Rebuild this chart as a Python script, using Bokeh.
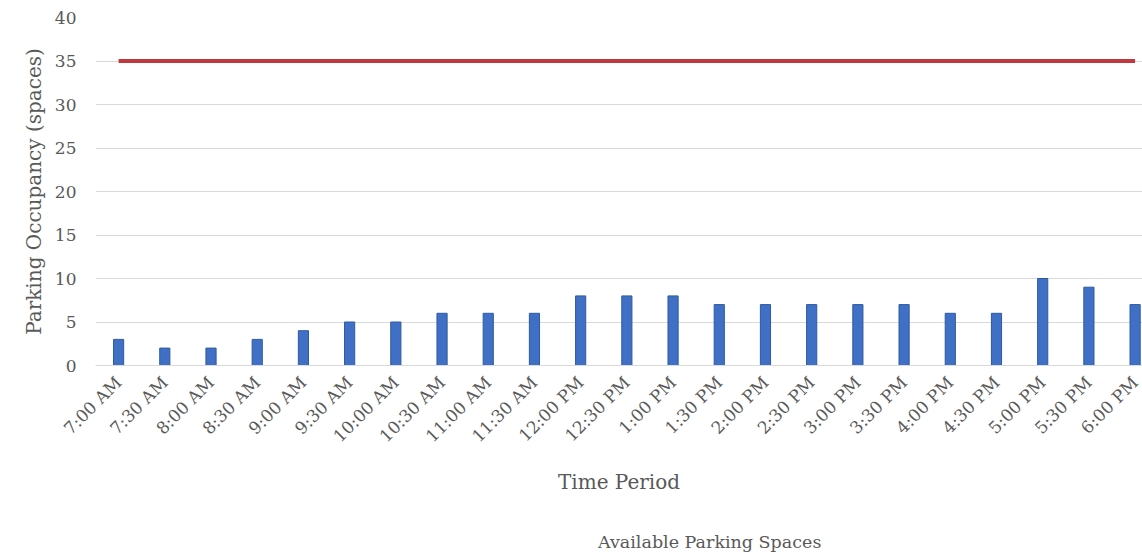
from bokeh.plotting import figure
from bokeh.models import Range1d, FixedTicker, Legend, LegendItem, ColumnDataSource
from bokeh.layouts import column
from bokeh.embed import file_html
from bokeh.resources import INLINE

categories = ["7:00 AM", "7:30 AM", "8:00 AM", "8:30 AM", "9:00 AM", "9:30 AM",
              "10:00 AM", "10:30 AM", "11:00 AM", "11:30 AM", "12:00 PM", "12:30 PM",
              "1:00 PM", "1:30 PM", "2:00 PM", "2:30 PM", "3:00 PM", "3:30 PM",
              "4:00 PM", "4:30 PM", "5:00 PM", "5:30 PM", "6:00 PM"]
occupancy = [3, 2, 2, 3, 4, 5, 5, 6, 6, 6, 8, 8, 8, 7, 7, 7, 7, 7, 6, 6, 10, 9, 7]
available = [35] * len(categories)
y_ticks = [0, 5, 10, 15, 20, 25, 30, 35, 40]

idx = list(range(len(categories)))
src = ColumnDataSource(dict(x=idx, occ=occupancy, avail=available))

FONT = "DejaVu Serif"
GREY = "#595959"
RED = "#C0393E"

p = figure(frame_width=1047, frame_height=348, output_backend="svg", toolbar_location=None,
           x_range=Range1d(-0.5, 22.16), y_range=Range1d(0, 40),
           min_border_left=95, min_border_right=0, min_border_top=17,
           min_border_bottom=132)
p.outline_line_color = None
p.background_fill_color = "white"
p.border_fill_color = "white"

p.vbar(x="x", top="occ", width=0.22, source=src, fill_color="#3F70C6",
       line_color="#2F5A9E", line_width=1)
p.line(x="x", y="avail", source=src, line_color=RED, line_width=4)

p.xgrid.grid_line_color = None
p.ygrid.grid_line_color = "#D9D9D9"
p.ygrid.ticker = FixedTicker(ticks=y_ticks[1:])

p.yaxis.ticker = FixedTicker(ticks=y_ticks)
p.yaxis.axis_line_color = None
p.yaxis.major_tick_line_color = None
p.yaxis.minor_tick_line_color = None
p.yaxis.major_label_standoff = 13
p.yaxis.major_label_text_font = FONT
p.yaxis.major_label_text_font_size = "17px"
p.yaxis.major_label_text_color = GREY
p.yaxis.axis_label = "Parking Occupancy (spaces)"
p.yaxis.axis_label_text_font = FONT
p.yaxis.axis_label_text_font_size = "20px"
p.yaxis.axis_label_text_font_style = "normal"
p.yaxis.axis_label_text_color = GREY
p.yaxis.axis_label_standoff = 6

p.xaxis.ticker = FixedTicker(ticks=idx)
p.xaxis.major_label_overrides = {i: c for i, c in zip(idx, categories)}
p.xaxis.major_label_orientation = 0.785
p.xaxis.axis_line_color = "#D9D9D9"
p.xaxis.major_tick_line_color = None
p.xaxis.minor_tick_line_color = None
p.xaxis.major_label_standoff = 8
p.xaxis.major_label_text_font = FONT
p.xaxis.major_label_text_font_size = "17px"
p.xaxis.major_label_text_color = GREY
p.xaxis.axis_label = "Time Period"
p.xaxis.axis_label_text_font = FONT
p.xaxis.axis_label_text_font_size = "20px"
p.xaxis.axis_label_text_font_style = "normal"
p.xaxis.axis_label_text_color = GREY
p.xaxis.axis_label_standoff = 14

# legend strip below the chart
p2 = figure(width=1142, height=56, output_backend="svg", toolbar_location=None,
            x_range=Range1d(0, 1), y_range=Range1d(0, 1),
            x_axis_type=None, y_axis_type=None, min_border=0)
p2.outline_line_color = None
p2.xgrid.grid_line_color = None
p2.ygrid.grid_line_color = None
dummy = p2.line(x=[], y=[], line_color=RED, line_width=4)
legend = Legend(items=[LegendItem(label="Available Parking Spaces", renderers=[dummy])],
                orientation="horizontal", location=(449, 1),
                label_text_font=FONT, label_text_font_size="17.5px",
                label_text_color=GREY, glyph_width=50, glyph_height=18,
                border_line_color=None, background_fill_alpha=0,
                margin=0, padding=0, label_standoff=4)
p2.add_layout(legend)

layout = column(p, p2, spacing=0)
open("out.html", "w").write(file_html(layout, INLINE))
